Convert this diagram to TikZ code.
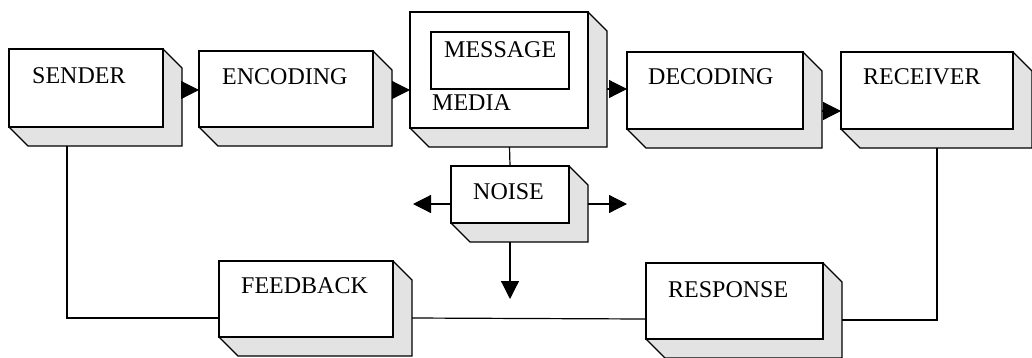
\documentclass[tikz,border=0pt]{standalone}
\usepackage{fontspec}
\setmainfont{Liberation Serif}
\usetikzlibrary{arrows.meta,calc}
\newcommand\mkbox[5]{%
  \filldraw[shadowfill] (#2,#5) -- ({#2+19},{#5+19}) -- ({#4+19},{#5+19}) -- ({#4+19},{#3+19}) -- (#4,#3) -- cycle;
  \node[box,minimum width={#4-#2},minimum height={#5-#3}] (#1) at ({(#2+#4)/2},{(#3+#5)/2}) {};
}
\begin{document}
\begin{tikzpicture}[x=1pt,y=-1pt,
  box/.style={draw=black,fill=white,line width=1.3pt,rectangle,inner sep=0pt,outer sep=0pt},
  shadowfill/.style={draw=black,fill=gray!22,line width=1.3pt,line join=miter},
  lbl/.style={anchor=base west,inner sep=0pt,font=\fontsize{24}{28}\selectfont},
  conn/.style={line width=1.2pt},
  arr/.style={line width=1.2pt,-{Triangle[length=18pt,width=18pt]}}]
\useasboundingbox[fill=white] (0,0) rectangle (1032,357);

% boxes
\mkbox{sender}{9}{49}{163}{127}
\mkbox{encoding}{199}{51}{373}{127}
\mkbox{media}{410}{12}{588}{128}
\node[box,minimum width=138,minimum height=57] (message) at (500,60.5) {};
\mkbox{decoding}{627}{52}{803}{129}
\mkbox{receiver}{841}{52}{1013}{129}
\mkbox{noise}{451}{166}{569}{223}
\mkbox{feedback}{219}{261}{393}{337}
\mkbox{response}{646}{263}{823}{339}

% labels
\node[lbl] (senderlbl) at ([shift={(23,34)}]sender.north west) {SENDER};
\node[lbl] (encodinglbl) at ([shift={(23,33)}]encoding.north west) {ENCODING};
\node[lbl] (messagelbl) at ([shift={(13,25)}]message.north west) {MESSAGE};
\node[lbl] (medialbl) at (432,110) {MEDIA};
\node[lbl] (decodinglbl) at ([shift={(21,32)}]decoding.north west) {DECODING};
\node[lbl] (receiverlbl) at ([shift={(22,32)}]receiver.north west) {RECEIVER};
\node[lbl] (noiselbl) at ([shift={(22,33)}]noise.north west) {NOISE};
\node[lbl] (feedbacklbl) at ([shift={(22,32)}]feedback.north west) {FEEDBACK};
\node[lbl] (responselbl) at ([shift={(22,34)}]response.north west) {RESPONSE};

% forward arrows
\draw[arr] ($(sender.east)+(19,2)$) -- ($(encoding.west)+(0,1)$);
\draw[arr] ($(encoding.east)+(19,1)$) -- ($(media.west)+(0,20)$);
\draw[arr] ($(media.east)+(19,19)$) -- ($(decoding.west)+(0,-1.5)$);
\draw[arr] ($(decoding.east)+(19,20.5)$) -- ($(receiver.west)+(0,20.5)$);

% noise
\draw[conn] ($(media.south)+(10.5,19)$) -- (noise.north);
\draw[arr] ($(noise.west)+(0,9.5)$) -- ++(-38,0);
\draw[arr] ($(noise.east)+(19,9.5)$) -- ++(39,0);
\draw[arr] ($(noise.south)+(0,19)$) -- ++(0,57);

% feedback loop
\draw[conn] ($(sender.south west)+(58,19)$) |- ($(feedback.west)+(0,19)$);
\draw[conn] ($(feedback.east)+(19,19)$) -- ($(response.west)+(0,18)$);
\draw[conn] ($(response.east)+(19,19)$) -| ($(receiver.south)+(10,19)$);
\end{tikzpicture}
\end{document}
